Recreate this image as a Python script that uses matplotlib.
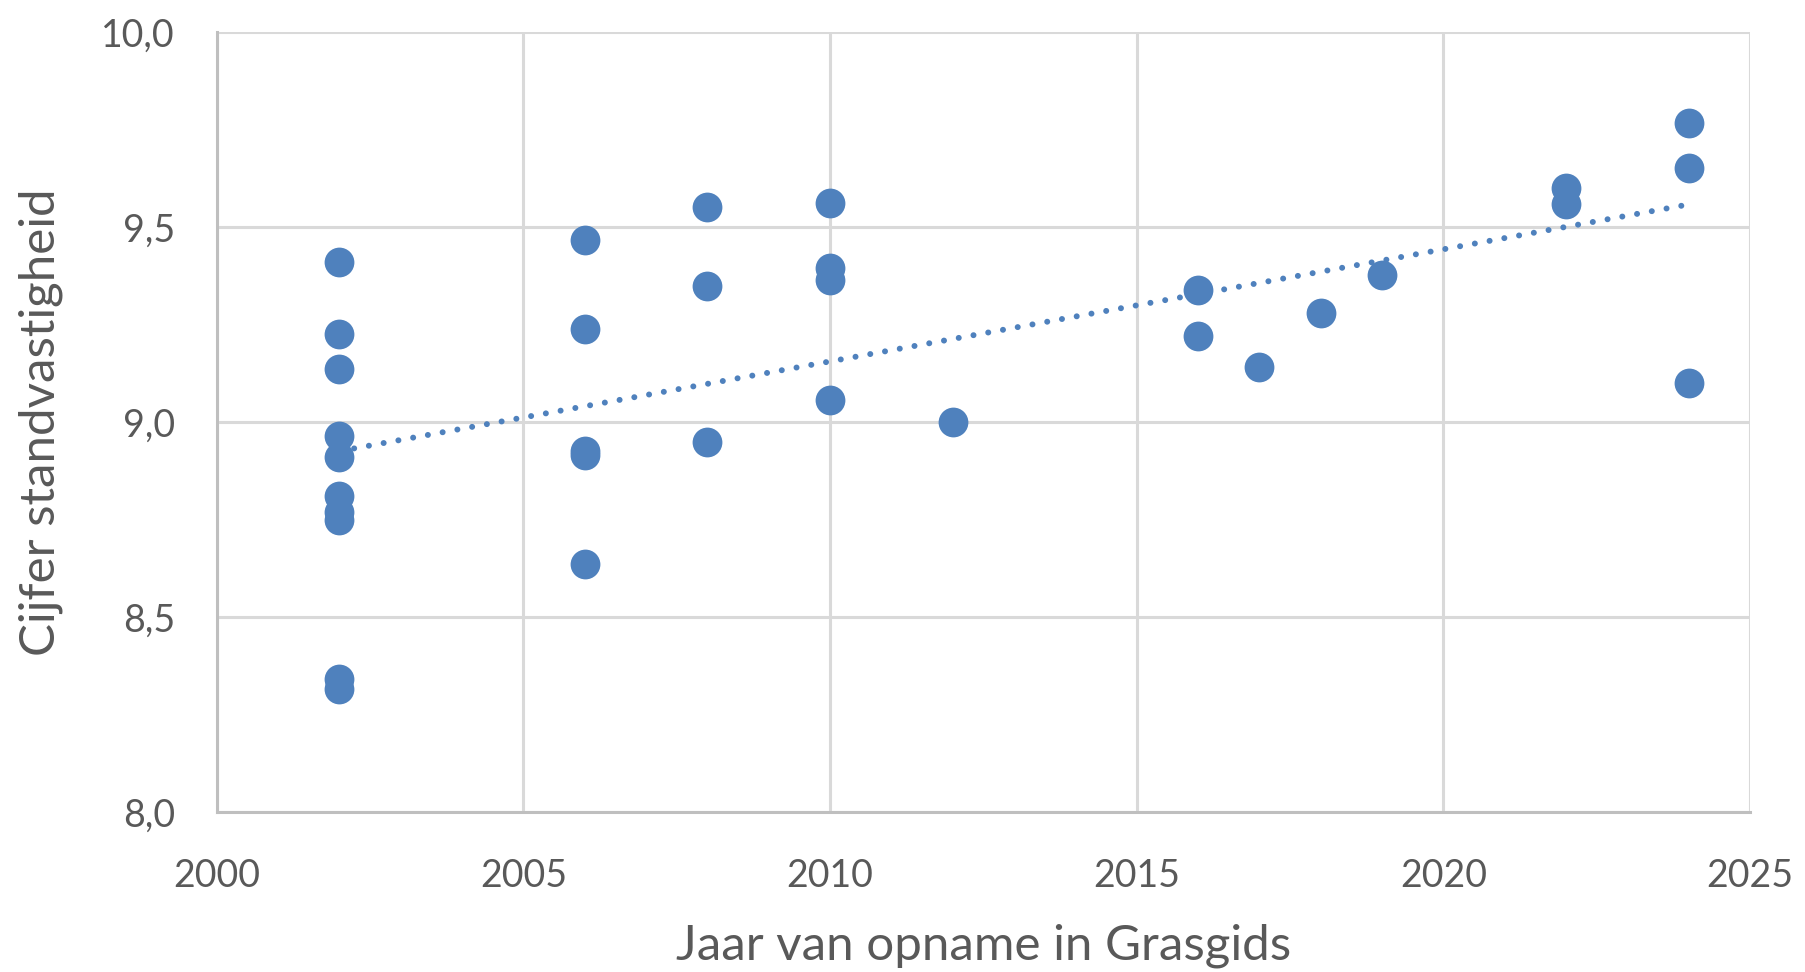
import numpy as np
import matplotlib
matplotlib.use("Agg")
import matplotlib.pyplot as plt

years = [2002, 2002, 2002, 2002, 2002, 2002, 2002, 2002, 2002, 2002,
         2006, 2006, 2006, 2006, 2006,
         2008, 2008, 2008,
         2010, 2010, 2010, 2010,
         2012,
         2016, 2016,
         2017, 2018, 2019,
         2022, 2022,
         2024, 2024, 2024]
scores = [9.41, 9.225, 9.135, 8.965, 8.91, 8.81, 8.77, 8.75, 8.34, 8.315,
          9.468, 9.238, 8.925, 8.915, 8.635,
          9.552, 9.349, 8.95,
          9.561, 9.395, 9.365, 9.056,
          9.0,
          9.338, 9.22,
          9.14, 9.279, 9.377,
          9.60, 9.56,
          9.768, 9.652, 9.10]

xticks = [2000, 2005, 2010, 2015, 2020, 2025]
yticks = [8.0, 8.5, 9.0, 9.5, 10.0]
ytick_labels = ["8,0", "8,5", "9,0", "9,5", "10,0"]

blue = "#4F81BD"
grid_c = "#D9D9D9"
text_c = "#595959"
font = ["Lato", "DejaVu Sans"]

fig = plt.figure(figsize=(18.06, 9.72), dpi=100)
ax = fig.add_axes([0.12, 0.1646, 0.849, 0.8024])

ax.scatter(years, scores, s=460, color=blue, zorder=3, linewidths=0)

coef = np.polyfit(years, scores, 1)
xt = np.array([min(years), max(years)])
ax.plot(xt, np.polyval(coef, xt), color=blue, lw=4.3,
        linestyle=(0, (0.01, 2.5)), dash_capstyle="round", zorder=2)

ax.set_xlim(2000, 2025)
ax.set_ylim(8.0, 10.0)
ax.set_xticks(xticks)
ax.set_xticklabels([str(v) for v in xticks])
ax.set_yticks(yticks)
ax.set_yticklabels(ytick_labels)
ax.grid(True, color=grid_c, lw=2.2, zorder=0)
ax.set_axisbelow(True)
for side in ["top", "right"]:
    ax.spines[side].set_visible(False)
for side in ["left", "bottom"]:
    ax.spines[side].set_color("#BFBFBF")
    ax.spines[side].set_linewidth(2.2)
ax.tick_params(length=0, labelsize=27, labelcolor=text_c)
ax.tick_params(axis="x", pad=33)
ax.tick_params(axis="y", pad=30)
for lab in ax.get_xticklabels() + ax.get_yticklabels():
    lab.set_family(font)

ax.set_xlabel("Jaar van opname in Grasgids", fontsize=35.5, color=text_c,
              family=font, va="center")
ax.xaxis.set_label_coords(0.5, -0.171)
ax.set_ylabel("Cijfer standvastigheid", fontsize=35.5, color=text_c,
              family=font, va="center")
ax.yaxis.set_label_coords(-0.115, 0.5)

fig.savefig("out.png", dpi=100)
